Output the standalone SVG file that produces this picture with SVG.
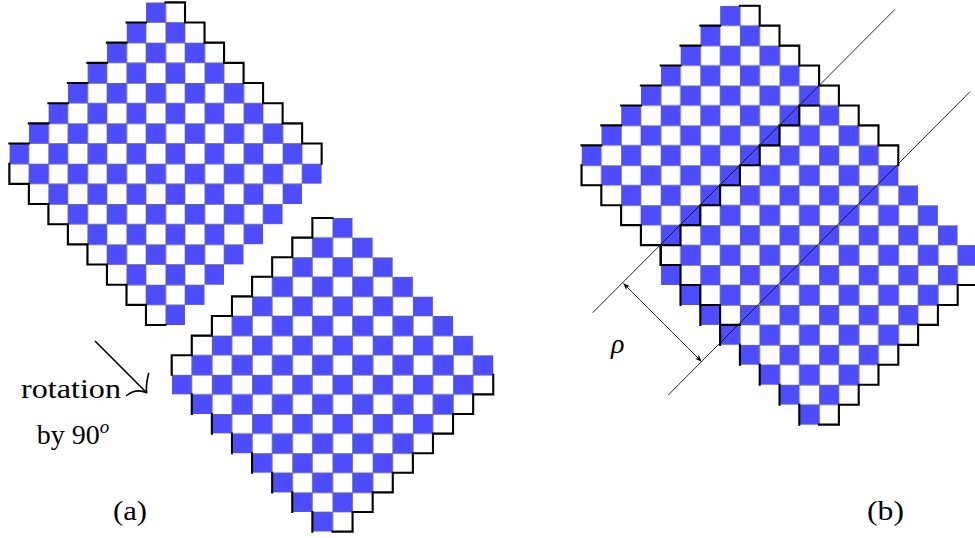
<svg xmlns="http://www.w3.org/2000/svg" width="975" height="538" viewBox="0 0 975 538">
<style>
.txt{font-family:'Liberation Serif','DejaVu Serif',serif;font-size:28px;fill:#000}
.ln{fill:none;stroke:#111;stroke-width:0.9}
.gr{fill:none;stroke:#6a6a80}
</style>
<defs>
<pattern id="pT" patternUnits="userSpaceOnUse" width="2" height="2">
<rect width="2" height="2" fill="#fff"/>
<rect x="1" y="0" width="1" height="1" fill="#4d4dff"/>
<rect x="0" y="1" width="1" height="1" fill="#4d4dff"/>
<path class="gr" stroke-width="0.035" d="M1 0V2M0 1H2"/>
<path class="gr" stroke-width="0.07" d="M0 0V2M0 0H2"/>
</pattern>
<pattern id="pB" patternUnits="userSpaceOnUse" width="2" height="2">
<rect width="2" height="2" fill="#fff"/>
<rect x="0" y="0" width="1" height="1" fill="#4d4dff"/>
<rect x="1" y="1" width="1" height="1" fill="#4d4dff"/>
<path class="gr" stroke-width="0.035" d="M1 0V2M0 1H2"/>
<path class="gr" stroke-width="0.07" d="M0 0V2M0 0H2"/>
</pattern>
<polygon id="shape" points="7,0 9,0 9,1 10,1 10,2 11,2 11,3 12,3 12,4 13,4 13,5 14,5 14,6 15,6 15,7 16,7 16,9 15,9 15,10 14,10 14,11 13,11 13,12 12,12 12,13 11,13 11,14 10,14 10,15 9,15 9,16 7,16 7,15 6,15 6,14 5,14 5,13 4,13 4,12 3,12 3,11 2,11 2,10 1,10 1,9 0,9 0,7 1,7 1,6 2,6 2,5 3,5 3,4 4,4 4,3 5,3 5,2 6,2 6,1 7,1"/>
<path id="olT" fill="none" stroke="#000" stroke-width="2.1" stroke-linecap="square" vector-effect="non-scaling-stroke" d="M8 0H9V1H10V2H11V3H12V4H13V5H14V6H15V7H16V8M0 8V9H1V10H2V11H3V12H4V13H5V14H6V15H7V16H8M6 1H7M5 2H6M4 3H5M3 4H4M2 5H3M1 6H2M0 7H1"/>
<path id="olB" fill="none" stroke="#000" stroke-width="2.1" stroke-linecap="square" vector-effect="non-scaling-stroke" d="M8 0H7V1H6V2H5V3H4V4H3V5H2V6H1V7H0V8M16 8V9H15V10H14V11H13V12H12V13H11V14H10V15H9V16H8M1 9V10M2 10V11M3 11V12M4 12V13M5 13V14M6 14V15M7 15V16"/>
<marker id="ah" viewBox="0 0 10 8" refX="10" refY="4" markerWidth="7" markerHeight="5.6" markerUnits="userSpaceOnUse" orient="auto-start-reverse">
<path d="M0,0 L10,4 L0,8 L3,4z" fill="#000"/>
</marker>
</defs>

<g id="a-top" transform="translate(9.33,2.33) scale(19.52,20.17)">
<use href="#shape" fill="url(#pT)"/>
<use href="#olT"/>
</g>
<g id="a-bottom" transform="translate(171.67,218) scale(20.1,19.6)">
<use href="#shape" fill="url(#pB)"/>
<use href="#olB"/>
</g>
<g id="b-top" transform="translate(581.5,5.7) scale(19.8,19.95)">
<use href="#shape" fill="url(#pT)"/>
</g>
<g id="b-bottom" transform="translate(660.7,105.45) scale(19.8,19.95)">
<use href="#shape" fill="url(#pB)"/>
</g>
<g id="b-outlines">
<use href="#olT" transform="translate(581.5,5.7) scale(19.8,19.95)"/>
<use href="#olB" transform="translate(660.7,105.45) scale(19.8,19.95)"/>
</g>

<g id="connectors">
<path class="ln" d="M592.7,312.7 L895,9.3"/>
<path class="ln" d="M668.3,395 L970,91.7"/>
<path class="ln" d="M623.3,283.3 L701.7,361.7" marker-start="url(#ah)" marker-end="url(#ah)"/>
<path d="M95,341 L146.7,392.7" fill="none" stroke="#000" stroke-width="1.6"/>
<path d="M148.6,373.5 Q145.6,385 146.7,392.7 M126.7,395.5 Q136,388 146.7,392.7" fill="none" stroke="#000" stroke-width="1.6" stroke-linecap="round"/>
</g>

<g id="labels">
<text class="txt" x="21" y="398" textLength="100" lengthAdjust="spacingAndGlyphs">rotation</text>
<text class="txt" x="36.7" y="444">by 90<tspan font-style="italic" font-size="19" dy="-11">o</tspan></text>
<text class="txt" x="113" y="519.5" textLength="34" lengthAdjust="spacingAndGlyphs">(a)</text>
<text class="txt" x="867" y="519.5" textLength="37" lengthAdjust="spacingAndGlyphs">(b)</text>
<text class="txt" x="611" y="352.5" font-style="italic">ρ</text>
</g>
</svg>
